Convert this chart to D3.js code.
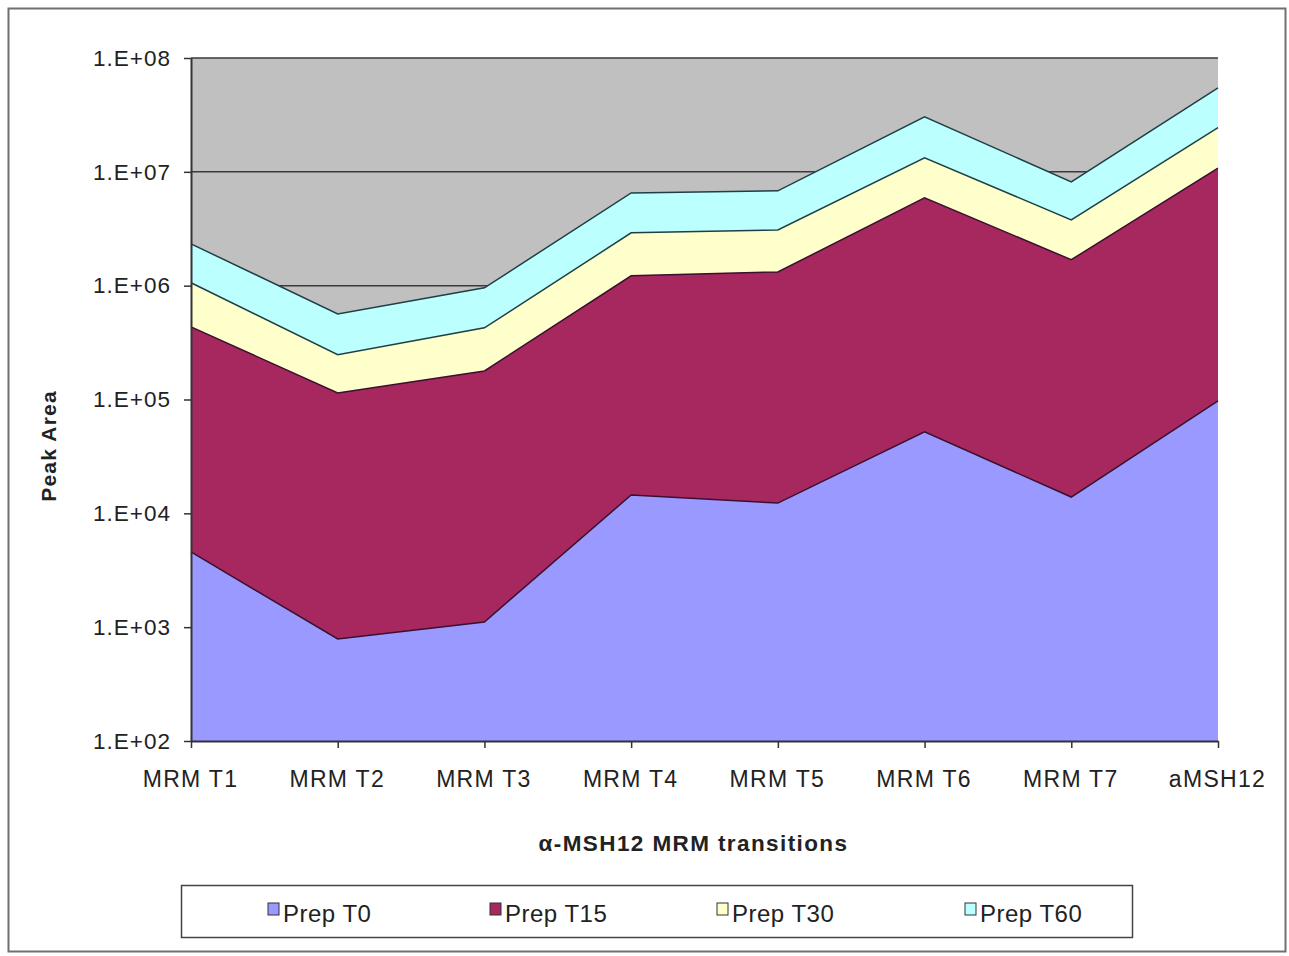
<!DOCTYPE html>
<html>
<head>
<meta charset="utf-8">
<script src="https://cdn.jsdelivr.net/npm/d3@7"></script>
<style>
    body { margin: 0; background: #fff; }
    svg { display: block; font-family: Arial, "Liberation Sans", sans-serif; }
</style>
</head>
<body>
<div id="chart"></div>
<script>
// categories along the x axis
const categories = ["MRM T1", "MRM T2", "MRM T3", "MRM T4", "MRM T5", "MRM T6", "MRM T7", "aMSH12"];

// top boundary of each series (peak area)
const prepT0  = [4580, 787, 1110, 14500, 12300, 51900, 13900, 97300];
const prepT15 = [435000, 114000, 178000, 1220000, 1320000, 5900000, 1690000, 10800000];
const prepT30 = [1060000, 247000, 426000, 2910000, 3090000, 13300000, 3780000, 24400000];
const prepT60 = [2330000, 565000, 957000, 6530000, 6810000, 30400000, 8170000, 54700000];

const seriesNames = ["Prep T0", "Prep T15", "Prep T30", "Prep T60"];
const yTicks = [1e2, 1e3, 1e4, 1e5, 1e6, 1e7, 1e8];

const colors = {
    "Prep T0": "#9999ff",
    "Prep T15": "#a6285f",
    "Prep T30": "#ffffcc",
    "Prep T60": "#bbffff"
};

const width = 1289;
const height = 956;
const margin = { top: 58, right: 71, bottom: 215, left: 191 };
const plotW = width - margin.left - margin.right;
const plotH = height - margin.top - margin.bottom;

const svg = d3.select("#chart")
    .append("svg")
    .attr("width", width)
    .attr("height", height);

// outer chart frame
svg.append("rect")
    .attr("x", 8.5)
    .attr("y", 8.5)
    .attr("width", 1277)
    .attr("height", 943)
    .attr("fill", "none")
    .attr("stroke", "#707070")
    .attr("stroke-width", 2);

const g = svg.append("g")
    .attr("transform", "translate(" + margin.left + "," + margin.top + ")");

const x = d3.scalePoint()
    .domain(categories)
    .range([0, plotW]);

const y = d3.scaleLog()
    .domain([1e2, 1e8])
    .range([plotH, 0]);

// gray plot background
g.append("rect")
    .attr("width", plotW)
    .attr("height", plotH)
    .attr("fill", "#c0c0c0");

// horizontal gridlines
g.append("g")
    .selectAll("line")
    .data(yTicks)
    .join("line")
    .attr("x1", 0)
    .attr("x2", plotW)
    .attr("y1", d => y(d))
    .attr("y2", d => y(d))
    .attr("stroke", "#3a3a3a")
    .attr("stroke-width", 1.5);

const seriesData = {
    "Prep T0": prepT0,
    "Prep T15": prepT15,
    "Prep T30": prepT30,
    "Prep T60": prepT60
};

const area = d3.area()
    .x((d, i) => x(categories[i]))
    .y0(y(1e2))
    .y1(d => y(d));

const line = d3.line()
    .x((d, i) => x(categories[i]))
    .y(d => y(d));

// draw largest first so smaller ones sit in front
const drawOrder = ["Prep T60", "Prep T30", "Prep T15", "Prep T0"];
for (let name of drawOrder) {
    g.append("path")
        .datum(seriesData[name])
        .attr("d", area)
        .attr("fill", colors[name]);
    g.append("path")
        .datum(seriesData[name])
        .attr("d", line)
        .attr("fill", "none")
        .attr("stroke", name == "Prep T15" || name == "Prep T0" ? "#3a1030" : "#1f3f44")
        .attr("stroke-width", 1.5);
}

// y axis
const yAxis = d3.axisLeft(y)
    .tickValues(yTicks)
    .tickSize(7)
    .tickSizeOuter(0)
    .tickFormat(d => "1.E+" + String(Math.round(Math.log10(d))).padStart(2, "0"));

const yG = g.append("g").call(yAxis);
yG.select(".domain").attr("stroke", "#333").attr("stroke-width", 2);
yG.selectAll(".tick line").attr("stroke", "#333").attr("stroke-width", 1.5);
yG.selectAll("text")
    .attr("x", -20)
    .attr("font-size", 22.5)
    .attr("letter-spacing", 1)
    .attr("fill", "#222");

// x axis
const xAxis = d3.axisBottom(x)
    .tickSize(7)
    .tickSizeOuter(0);

const xG = g.append("g")
    .attr("transform", "translate(0," + plotH + ")")
    .call(xAxis);
xG.select(".domain").attr("stroke", "#333").attr("stroke-width", 2);
xG.selectAll(".tick line").attr("stroke", "#333").attr("stroke-width", 1.5);
xG.selectAll("text")
    .attr("x", -1)
    .attr("y", 39)
    .attr("dy", "0.32em")
    .attr("font-size", 23)
    .attr("letter-spacing", 1.3)
    .attr("fill", "#222");

// axis titles
svg.append("text")
    .text("\u03B1-MSH12 MRM transitions")
    .attr("x", margin.left + plotW / 2 - 11)
    .attr("y", 851)
    .attr("text-anchor", "middle")
    .attr("font-size", 22.5)
    .attr("letter-spacing", 1.4)
    .attr("font-weight", "bold")
    .attr("fill", "#222");

svg.append("text")
    .text("Peak Area")
    .attr("transform", "translate(56,446) rotate(-90)")
    .attr("text-anchor", "middle")
    .attr("font-size", 21)
    .attr("letter-spacing", 1.2)
    .attr("font-weight", "bold")
    .attr("fill", "#222");

// legend
const legend = svg.append("g");
legend.append("rect")
    .attr("x", 181.5)
    .attr("y", 885.5)
    .attr("width", 951)
    .attr("height", 52)
    .attr("fill", "#fff")
    .attr("stroke", "#444")
    .attr("stroke-width", 1.5);

const legendX = [268, 490, 717, 965];
const items = legend.selectAll("g.item")
    .data(seriesNames)
    .join("g")
    .attr("class", "item")
    .attr("transform", (d, i) => "translate(" + legendX[i] + ",0)");

items.append("rect")
    .attr("x", 0)
    .attr("y", 903)
    .attr("width", 11)
    .attr("height", 12)
    .attr("fill", d => colors[d])
    .attr("stroke", "#333")
    .attr("stroke-width", 1);

items.append("text")
    .text(d => d)
    .attr("x", 15)
    .attr("y", 922)
    .attr("font-size", 24)
    .attr("letter-spacing", 0.5)
    .attr("fill", "#222");
</script>
</body>
</html>
